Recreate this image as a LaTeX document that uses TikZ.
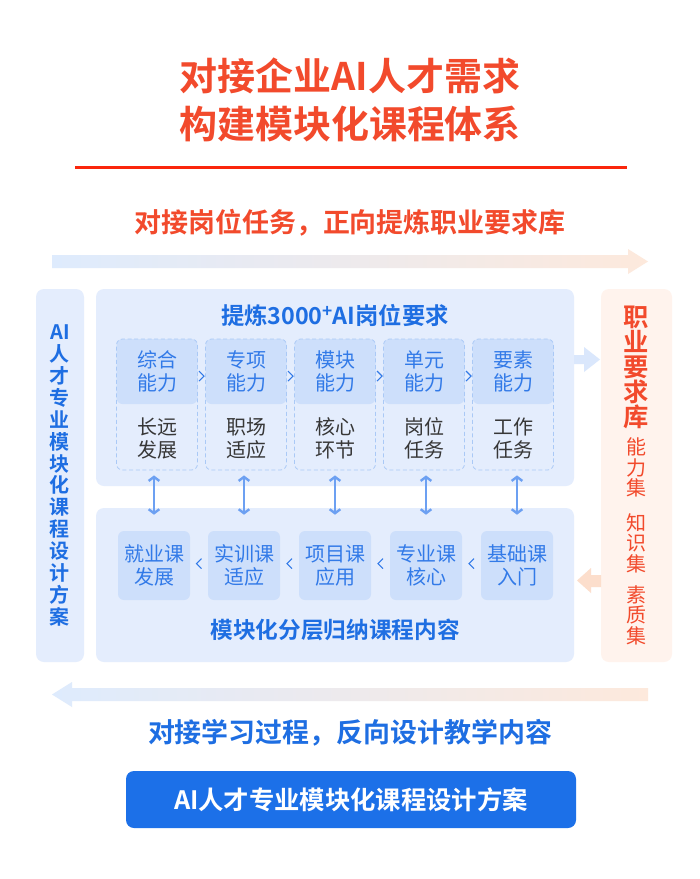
\documentclass[tikz,border=0pt]{standalone}
\usepackage{fontspec}
\setmainfont{Noto Sans CJK SC}[BoldFont={Noto Sans CJK SC Bold}]
\usetikzlibrary{calc,arrows.meta}
\definecolor{hotred}{RGB}{242,74,44}
\definecolor{linered}{RGB}{250,38,12}
\definecolor{deepblue}{RGB}{30,110,226}
\definecolor{cellink}{RGB}{50,122,232}
\definecolor{panelblue}{RGB}{228,237,253}
\definecolor{cellblue}{RGB}{205,223,251}
\definecolor{dashblue}{RGB}{170,201,246}
\definecolor{linkblue}{RGB}{108,160,242}
\definecolor{peach}{RGB}{255,243,237}
\definecolor{peacharrow}{RGB}{252,222,204}
\definecolor{palearrow}{RGB}{218,231,252}
\definecolor{fadeblue}{RGB}{222,235,253}
\definecolor{fadepeach}{RGB}{253,233,220}
\definecolor{btnblue}{RGB}{28,112,232}
\definecolor{ink}{RGB}{55,55,55}

\begin{document}
\begin{tikzpicture}[x=0.75pt,y=-0.75pt,
  panel/.style={fill=#1,rounded corners=6pt},
  ttl/.style={text=#1,inner sep=0pt,align=center,font=\fontsize{20.2}{24}\selectfont\bfseries},
  cell/.style={fill=cellblue,rounded corners=4.5pt,inner sep=0pt,minimum width=#1,
    text=cellink,align=center,font=\fontsize{15}{17.25}\selectfont},
  colbox/.style={draw=dashblue,dash pattern=on 3pt off 2pt,line width=0.6pt,rounded corners=4.5pt,
    minimum width=60.75pt,minimum height=98.25pt},
  chev/.style={draw=cellink,line width=0.8pt},
  link/.style={{Straight Barb[length=3pt,width=8pt]}-{Straight Barb[length=3pt,width=8pt]},
    draw=linkblue,line width=1.8pt,shorten <=3.75pt,shorten >=12pt},
  vtext/.style={inner sep=0pt,align=center,text=#1}]
\useasboundingbox (0,0) rectangle (700,879);
\fill[white] (0,0) rectangle (700,879);

% title
\node[ttl=hotred,font=\fontsize{28.5}{36}\selectfont\bfseries] (title) at (350,100) {对接企业AI人才需求\\构建模块化课程体系};
\draw[linered,line width=2.25pt] (75,167) -- (627,167);
\node[ttl=hotred] (forward) at (350,223) {对接岗位任务，正向提炼职业要求库};
\shade[left color=fadeblue,right color=fadepeach] (52,255) -- (628,255) -- (628,249) -- (648,261.5)
  -- (628,274) -- (628,268) -- (52,268) -- cycle;

% side columns
\fill[panel=panelblue] (36,289) rectangle (84,662);
\node[vtext=deepblue,font=\fontsize{15}{16.4}\selectfont\bfseries] (plan) at (60,475.5)
  {AI\\人\\才\\专\\业\\模\\块\\化\\课\\程\\设\\计\\方\\案};
\fill[panel=peach] (601,289) rectangle (672,662);
\node[vtext=hotred,font=\fontsize{19}{18.6}\selectfont\bfseries] (lib) at (636.5,367.5) {职\\业\\要\\求\\库};
\node[vtext=hotred,font=\fontsize{15}{15.4}\selectfont] (set1) at (636.5,467.5) {能\\力\\集};
\node[vtext=hotred,font=\fontsize{15}{15.4}\selectfont] (set2) at (636.5,543) {知\\识\\集};
\node[vtext=hotred,font=\fontsize{15}{15.4}\selectfont] (set3) at (636.5,615) {素\\质\\集};

% upper panel
\fill[panel=panelblue] (96,289) rectangle (574,486);
\node[ttl=deepblue,font=\fontsize{17.5}{20}\selectfont\bfseries] (ask) at (335,315)
  {提炼3000\raisebox{0.3em}{\fontsize{13}{13}\selectfont +}AI岗位要求};
\foreach \i/\x/\a/\b in {1/157/{综合\\能力}/{长远\\发展},2/246/{专项\\能力}/{职场\\适应},
    3/335/{模块\\能力}/{核心\\环节},4/424/{单元\\能力}/{岗位\\任务},5/513/{要素\\能力}/{工作\\任务}}{
  \node[cell=60.75pt,minimum height=48.75pt] (ua\i) at (\x,371.5) {\a};
  \node[colbox] (col\i) at (\x,404.5) {};
  \node[inner sep=0pt,align=center,text=ink,font=\fontsize{15}{17.25}\selectfont] (ub\i) at (\x,438.5) {\b};
}
\foreach \i/\j in {1/2,2/3,3/4,4/5}
  \draw[chev] ($(ua\i.east)!0.5!(ua\j.west)+(0,4.5)$) ++(-2.5,-5) -- ++(5,5) -- ++(-5,5);

% lower panel
\fill[panel=panelblue] (96,508) rectangle (574,662);
\foreach \i/\x/\c in {1/154/{就业课\\发展},2/244/{实训课\\适应},3/335/{项目课\\应用},
    4/426/{专业课\\核心},5/517/{基础课\\入门}}
  \node[cell=54pt,minimum height=51.75pt] (bc\i) at (\x,565.5) {\c};
\foreach \i/\j in {1/2,2/3,3/4,4/5}
  \draw[chev] ($(bc\i.east)!0.5!(bc\j.west)+(0,-2)$) ++(2.5,-5) -- ++(-5,5) -- ++(5,5);
\foreach \i in {1,...,5}
  \draw[link] (bc\i.north |- col\i.south) -- (bc\i.north);
\node[ttl=deepblue,font=\fontsize{17}{20}\selectfont\bfseries] (sort) at (335,630) {模块化分层归纳课程内容};

% block arrows
\fill[palearrow] (574,355) -- (584,355) -- (584,347) -- (600,359.5) -- (584,372) -- (584,364) -- (574,364) -- cycle;
\fill[peacharrow] (601,575) -- (591,575) -- (591,568) -- (577,580.5) -- (591,593) -- (591,587) -- (601,587) -- cycle;
\shade[left color=fadeblue,right color=fadepeach] (648,688) -- (72,688) -- (72,682) -- (52,694.5)
  -- (72,707) -- (72,701) -- (648,701) -- cycle;

% bottom
\node[ttl=deepblue] (backward) at (350,733) {对接学习过程，反向设计教学内容};
\node[fill=btnblue,rounded corners=6pt,minimum width=337.5pt,minimum height=42.75pt,text=white,
  font=\fontsize{19}{22}\selectfont\bfseries] (plan2) at (351,799.5) {AI人才专业模块化课程设计方案};
\end{tikzpicture}
\end{document}
